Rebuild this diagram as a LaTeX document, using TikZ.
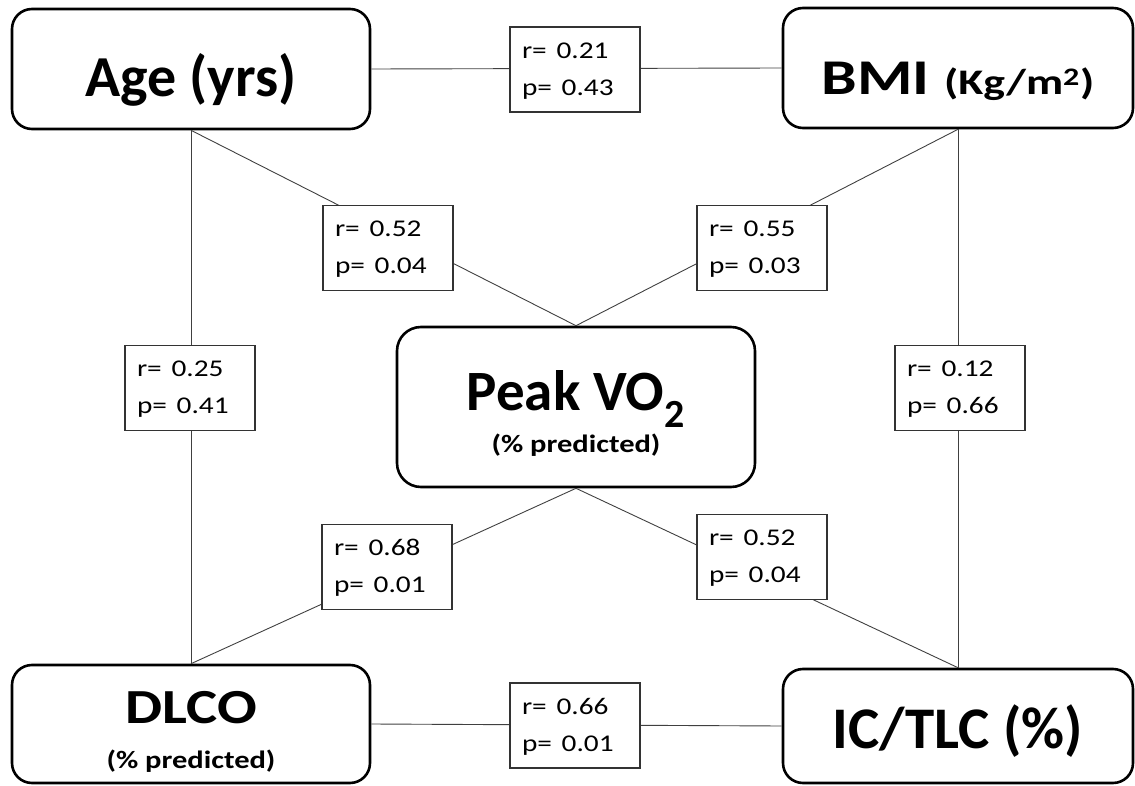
\documentclass[tikz,border=0pt]{standalone}
\usepackage{fontspec}
\setmainfont{Carlito}
\newcommand{\BoxW}{358pt}
\newcommand{\ValW}{106pt}
\newcommand{\Wide}[2]{\scalebox{#1}[1]{#2}}
\newcommand{\RP}[2]{\Wide{1.22}{\begin{tabular}{@{}l@{}}r= #1\\p= #2\end{tabular}}}
\tikzset{MainBox/.style={
    draw=black,
    line width=2.6pt,
    rounded corners=20pt,
    inner sep=0pt,
    minimum width=\BoxW,
    align=center
    }
}
\tikzset{ValueBox/.style={
    draw=black!80,
    line width=1.2pt,
    fill=white,
    inner xsep=12pt,
    inner ysep=0pt,
    minimum height=85pt,
    text width=\ValW,
    align=left,
    font=\fontsize{24}{37}\selectfont
    }
}
\tikzset{Link/.style={
    draw=black!75,
    line width=0.9pt
    }
}
\begin{document}
\begin{tikzpicture}[x=1pt, y=-1pt]
    \useasboundingbox (0,0) rectangle (1135,786);

    \node (Age)[MainBox, minimum height=120pt, text height=56pt, text depth=0pt,
        font=\bfseries\fontsize{58}{60}\selectfont] at (191,69) {Age (yrs)};
    \node (BMI)[MainBox, minimum width=350pt, minimum height=120pt, text height=54pt, text depth=0pt,
        font=\bfseries\fontsize{50}{54}\selectfont] at (958,68)
    {\Wide{1.27}{BMI \fontsize{36}{40}\selectfont (Kg/m\textsuperscript{2})}};
    \node (Peak)[MainBox, rounded corners=24pt, minimum height=160pt, text height=90pt, text depth=0pt,
        font=\bfseries\fontsize{25}{42}\selectfont] at (576,407)
    {{\fontsize{57}{60}\selectfont Peak VO\textsubscript{2}}\\\Wide{1.22}{(\% predicted)}};
    \node (DLCO)[MainBox, minimum height=118pt, text height=88pt, text depth=0pt,
        font=\bfseries\fontsize{25}{45}\selectfont] at (191,724)
    {\Wide{1.2}{\fontsize{49}{52}\selectfont DLCO}\\\Wide{1.22}{(\% predicted)}};
    \node (ICTLC)[MainBox, minimum width=350pt, minimum height=114pt, text height=44pt, text depth=0pt,
        font=\bfseries\fontsize{59}{62}\selectfont] at (958,726) {IC/TLC (\%)};

    % links
    \draw[Link] (Age.east) -- (BMI.west);
    \draw[Link] (Age.south) -- (DLCO.north);
    \draw[Link] (BMI.south) -- (ICTLC.north);
    \draw[Link] (Age.south) -- (Peak.north);
    \draw[Link] (BMI.south) -- (Peak.north);
    \draw[Link] (Peak.south) -- (DLCO.north);
    \draw[Link] (Peak.south) -- (ICTLC.north);
    \draw[Link] (DLCO.east) -- (ICTLC.west);

    % correlations
    \node (rAB)[ValueBox] at (575,69.5) {\RP{0.21}{0.43}};
    \node (rAP)[ValueBox] at (388,248) {\RP{0.52}{0.04}};
    \node (rBP)[ValueBox] at (762,248) {\RP{0.55}{0.03}};
    \node (rAD)[ValueBox] at (190,388) {\RP{0.25}{0.41}};
    \node (rBI)[ValueBox] at (960,388) {\RP{0.12}{0.66}};
    \node (rPD)[ValueBox] at (387,567) {\RP{0.68}{0.01}};
    \node (rPI)[ValueBox] at (762,557) {\RP{0.52}{0.04}};
    \node (rDI)[ValueBox] at (575,725.5) {\RP{0.66}{0.01}};
\end{tikzpicture}
\end{document}
